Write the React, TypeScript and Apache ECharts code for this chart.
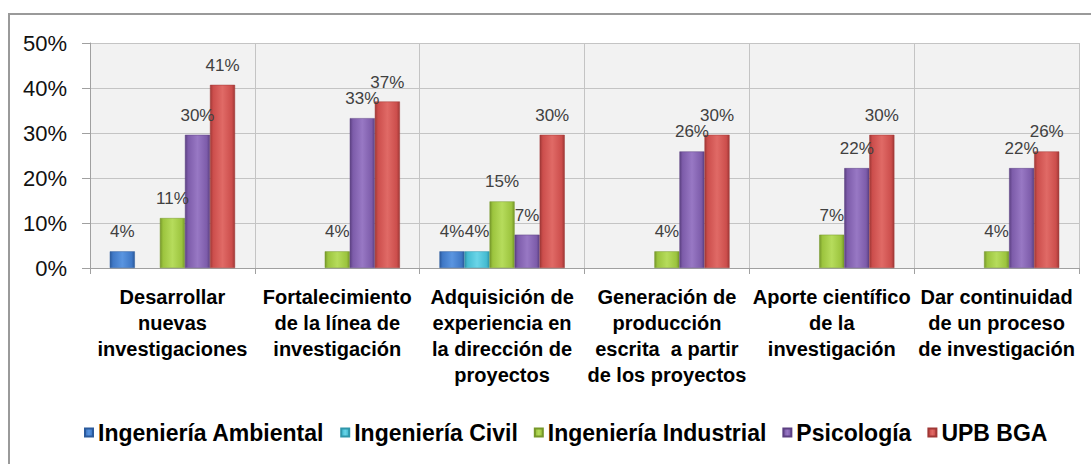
import React, { useEffect, useRef } from "react";
import * as echarts from "echarts";

const categories = [
  "Desarrollar\nnuevas\ninvestigaciones",
  "Fortalecimiento\nde la línea de\ninvestigación",
  "Adquisición de\nexperiencia en\nla dirección de\nproyectos",
  "Generación de\nproducción\nescrita  a partir\nde los proyectos",
  "Aporte científico\nde la\ninvestigación",
  "Dar continuidad\nde un proceso\nde investigación",
];

const seriesNames = [
  "Ingeniería Ambiental",
  "Ingeniería Civil",
  "Ingeniería Industrial",
  "Psicología",
  "UPB BGA",
];

const ambiental = [3.7, 0, 3.7, 0, 0, 0];
const civil = [0, 0, 3.7, 0, 0, 0];
const industrial = [11.1, 3.7, 14.8, 3.7, 7.4, 3.7];
const psicologia = [29.6, 33.3, 7.4, 25.9, 22.2, 22.2];
const upb = [40.7, 37.0, 29.6, 29.6, 29.6, 25.9];

const yTicks = [0, 10, 20, 30, 40, 50];

const seriesData = [ambiental, civil, industrial, psicologia, upb];

const colors = [
  { base: "#3f78c6", dark: "#2b5a9c", light: "#5a95e0" },
  { base: "#45bcd2", dark: "#2f96aa", light: "#6ad5e8" },
  { base: "#9cc43e", dark: "#76982a", light: "#b6dc5c" },
  { base: "#7d5caa", dark: "#5c4082", light: "#9878c4" },
  { base: "#cc4e4c", dark: "#a03836", light: "#e06a66" },
];

const FONT = "'Liberation Sans', Arial, sans-serif";

export default function App() {
  const ref = useRef<HTMLDivElement>(null);

  useEffect(() => {
    if (!ref.current) return;
    const chart = echarts.init(ref.current, undefined, { renderer: "svg" });

    const grad = (c: { base: string; dark: string; light: string }) =>
      new echarts.graphic.LinearGradient(0, 0, 1, 0, [
        { offset: 0, color: c.dark },
        { offset: 0.12, color: c.base },
        { offset: 0.5, color: c.light },
        { offset: 0.88, color: c.base },
        { offset: 1, color: c.dark },
      ]);

    chart.setOption({
      animation: false,
      backgroundColor: "#ffffff",
      textStyle: { fontFamily: FONT },
      graphic: [
        {
          type: "rect",
          shape: { x: 9, y: 14, width: 1300, height: 700 },
          style: { fill: "none", stroke: "#9a9a9a", lineWidth: 2 },
          silent: true,
        },
      ],
      grid: {
        left: 90,
        right: 12,
        top: 43,
        bottom: 196,
        show: true,
        backgroundColor: "#f2f2f2",
        borderWidth: 0,
      },
      legend: {
        top: 416,
        left: 79,
        itemWidth: 8,
        itemHeight: 8,
        itemGap: 16,
        icon: "rect",
        data: seriesNames,
        textStyle: {
          fontSize: 23,
          fontWeight: "bold",
          color: "#000000",
          fontFamily: FONT,
        },
      },
      xAxis: {
        type: "category",
        data: categories,
        axisLine: { show: true, lineStyle: { color: "#a0a0a0", width: 1 } },
        axisTick: { show: true, length: 6, lineStyle: { color: "#a0a0a0" } },
        splitLine: { show: true, interval: 0, lineStyle: { color: "#c4c4c4", width: 1 } },
        axisLabel: {
          interval: 0,
          margin: 16,
          fontSize: 20,
          lineHeight: 26,
          fontWeight: "bold",
          color: "#000000",
          fontFamily: FONT,
        },
      },
      yAxis: {
        type: "value",
        min: yTicks[0],
        max: yTicks[yTicks.length - 1],
        interval: 10,
        axisLine: { show: true, lineStyle: { color: "#a0a0a0", width: 1 } },
        axisTick: { show: true, length: 8, lineStyle: { color: "#a0a0a0" } },
        splitLine: { show: true, lineStyle: { color: "#c4c4c4", width: 1 } },
        axisLabel: {
          margin: 23,
          fontSize: 22,
          color: "#111111",
          formatter: "{value}%",
          fontFamily: FONT,
        },
      },
      series: seriesNames.map((name, i) => ({
        name,
        type: "bar",
        data: seriesData[i].map((v) => (v > 0 ? v : "-")),
        barGap: "0%",
        barCategoryGap: "24%",
        itemStyle: {
          color: grad(colors[i]),
          borderColor: colors[i].dark,
          borderWidth: 0.5,
        },
        label: {
          show: true,
          position: "top",
          distance: 11,
          fontSize: 17,
          color: "#404040",
          fontFamily: FONT,
          formatter: (p: any) => (p.value > 0 ? Math.round(p.value) + "%" : ""),
        },
      })),
    });

    return () => {
      chart.dispose();
    };
  }, []);

  return (
    <div
      ref={ref}
      style={{ position: "absolute", left: 0, top: 0, width: 1091, height: 464 }}
    />
  );
}
